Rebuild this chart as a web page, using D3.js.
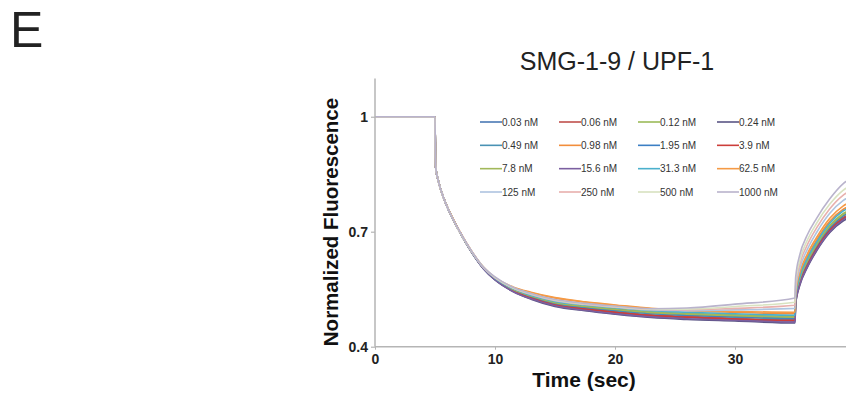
<!DOCTYPE html>
<html>
<head>
<meta charset="utf-8">
<script src="https://cdn.jsdelivr.net/npm/d3@7"></script>
<style>
  html, body { margin: 0; padding: 0; background: #fff; }
  svg { display: block; }
</style>
</head>
<body>
<svg id="chart" width="846" height="396"></svg>
<script>
// ---- data ----
const times = [0, 5, 5.05, 5.3, 5.7, 6.2, 7, 8, 9, 10, 11.5, 13, 15, 17.5, 20, 23, 26, 30, 35, 35.05, 35.4, 36, 36.8, 37.9, 39, 40];

const seriesNames = ["0.03 nM", "0.06 nM", "0.12 nM", "0.24 nM",
                     "0.49 nM", "0.98 nM", "1.95 nM", "3.9 nM",
                     "7.8 nM", "15.6 nM", "31.3 nM", "62.5 nM",
                     "125 nM", "250 nM", "500 nM", "1000 nM"];

const seriesColors = ["#4a78b5", "#c0504d", "#9bbb59", "#5b5585",
                      "#4a92b4", "#f28e3c", "#3c7fc4", "#cc3e3a",
                      "#a2b85a", "#7b5fa0", "#4bb0cc", "#f59a45",
                      "#aec4e0", "#e8b0ad", "#d8e2c0", "#b9b3cc"];

const s003  = [1, 1, 0.87, 0.83, 0.79, 0.752, 0.703, 0.650, 0.606, 0.575, 0.545, 0.527, 0.509, 0.497, 0.489, 0.480, 0.476, 0.471, 0.467, 0.515, 0.565, 0.610, 0.655, 0.703, 0.734, 0.748];
const s006  = [1, 1, 0.87, 0.83, 0.79, 0.752, 0.703, 0.650, 0.606, 0.576, 0.547, 0.528, 0.511, 0.500, 0.492, 0.483, 0.479, 0.474, 0.470, 0.518, 0.568, 0.613, 0.658, 0.706, 0.737, 0.751];
const s012  = [1, 1, 0.87, 0.83, 0.79, 0.752, 0.703, 0.650, 0.607, 0.578, 0.550, 0.533, 0.516, 0.506, 0.499, 0.491, 0.487, 0.483, 0.479, 0.527, 0.578, 0.623, 0.668, 0.716, 0.747, 0.761];
const s024  = [1, 1, 0.87, 0.83, 0.79, 0.752, 0.703, 0.649, 0.605, 0.574, 0.544, 0.524, 0.505, 0.494, 0.485, 0.476, 0.471, 0.467, 0.462, 0.510, 0.560, 0.605, 0.650, 0.698, 0.728, 0.742];
const s049  = [1, 1, 0.87, 0.83, 0.79, 0.752, 0.703, 0.650, 0.606, 0.577, 0.548, 0.530, 0.512, 0.502, 0.494, 0.486, 0.482, 0.477, 0.473, 0.521, 0.572, 0.617, 0.662, 0.710, 0.741, 0.755];
const s098  = [1, 1, 0.87, 0.83, 0.79, 0.753, 0.704, 0.651, 0.608, 0.579, 0.554, 0.541, 0.527, 0.516, 0.508, 0.499, 0.494, 0.490, 0.486, 0.534, 0.587, 0.633, 0.678, 0.727, 0.758, 0.772];
const s195  = [1, 1, 0.87, 0.83, 0.79, 0.752, 0.703, 0.650, 0.606, 0.577, 0.548, 0.531, 0.514, 0.503, 0.496, 0.488, 0.483, 0.479, 0.475, 0.523, 0.574, 0.619, 0.664, 0.712, 0.743, 0.757];
const s39   = [1, 1, 0.87, 0.83, 0.79, 0.752, 0.703, 0.650, 0.606, 0.576, 0.546, 0.527, 0.509, 0.498, 0.490, 0.481, 0.477, 0.472, 0.468, 0.516, 0.566, 0.611, 0.656, 0.704, 0.733, 0.747];
const s78   = [1, 1, 0.87, 0.83, 0.79, 0.752, 0.703, 0.650, 0.607, 0.577, 0.549, 0.532, 0.515, 0.505, 0.497, 0.489, 0.485, 0.481, 0.477, 0.525, 0.576, 0.621, 0.666, 0.714, 0.745, 0.759];
const s156  = [1, 1, 0.87, 0.83, 0.79, 0.752, 0.703, 0.649, 0.605, 0.575, 0.544, 0.525, 0.507, 0.495, 0.486, 0.478, 0.473, 0.469, 0.464, 0.512, 0.562, 0.607, 0.652, 0.700, 0.731, 0.745];
const s313  = [1, 1, 0.87, 0.83, 0.79, 0.752, 0.703, 0.650, 0.607, 0.578, 0.551, 0.534, 0.518, 0.509, 0.502, 0.494, 0.490, 0.486, 0.482, 0.530, 0.582, 0.628, 0.673, 0.722, 0.754, 0.768];
const s625  = [1, 1, 0.87, 0.83, 0.79, 0.753, 0.704, 0.652, 0.609, 0.580, 0.556, 0.542, 0.528, 0.517, 0.509, 0.500, 0.495, 0.492, 0.490, 0.538, 0.593, 0.640, 0.685, 0.735, 0.767, 0.782];
const s125  = [1, 1, 0.87, 0.83, 0.79, 0.752, 0.703, 0.651, 0.608, 0.580, 0.553, 0.536, 0.520, 0.510, 0.503, 0.496, 0.494, 0.496, 0.500, 0.548, 0.604, 0.652, 0.698, 0.748, 0.781, 0.797];
const s250  = [1, 1, 0.87, 0.83, 0.79, 0.752, 0.703, 0.651, 0.608, 0.580, 0.553, 0.537, 0.521, 0.511, 0.504, 0.497, 0.496, 0.500, 0.508, 0.557, 0.615, 0.664, 0.710, 0.760, 0.795, 0.812];
const s500  = [1, 1, 0.87, 0.83, 0.79, 0.752, 0.703, 0.651, 0.609, 0.581, 0.554, 0.538, 0.522, 0.512, 0.505, 0.498, 0.498, 0.505, 0.516, 0.566, 0.625, 0.676, 0.722, 0.772, 0.808, 0.826];
const s1000 = [1, 1, 0.87, 0.83, 0.79, 0.752, 0.704, 0.652, 0.609, 0.582, 0.555, 0.539, 0.523, 0.513, 0.506, 0.499, 0.501, 0.511, 0.527, 0.580, 0.640, 0.690, 0.735, 0.786, 0.825, 0.845];

const seriesValues = [s003, s006, s012, s024, s049, s098, s195, s39, s78, s156, s313, s625, s125, s250, s500, s1000];

const xTicks = [0, 10, 20, 30];
const yTicks = [0.4, 0.7, 1];

const titleText = "SMG-1-9 / UPF-1";
const panelLetter = "E";
const xLabel = "Time (sec)";
const yLabel = "Normalized Fluorescence";

// ---- drawing ----
const svg = d3.select("#chart");
const x = d3.scaleLinear().domain([0, 40]).range([375, 855]);
const y = d3.scaleLinear().domain([0.4, 1.1]).range([346.7, 78.4]);

const axisColor = "#b5b5b5";

// panel letter
svg.append("text").attr("x", 10).attr("y", 47)
  .attr("font-family", "Arial, 'Liberation Sans', sans-serif")
  .attr("font-size", 50).attr("fill", "#222").text(panelLetter);

// title
svg.append("text").attr("x", 617).attr("y", 70).attr("text-anchor", "middle")
  .attr("font-family", "Arial, 'Liberation Sans', sans-serif")
  .attr("font-size", 25).attr("fill", "#222").text(titleText);

// lines
const line = d3.line()
  .x((d, i) => x(times[i]))
  .y(d => y(d))
  .curve(d3.curveMonotoneX);

const gLines = svg.append("g");
seriesValues.forEach((vals, i) => {
  gLines.append("path")
    .attr("d", line(vals))
    .attr("fill", "none")
    .attr("stroke", seriesColors[i])
    .attr("stroke-width", 1.6)
    .attr("stroke-linejoin", "round");
});

// y axis
const yAxis = d3.axisLeft(y).tickValues(yTicks).tickSize(4).tickPadding(3)
  .tickFormat(d => d === 1 ? "1" : d3.format(".1f")(d));
const gy = svg.append("g").attr("transform", "translate(375,0)").call(yAxis);
gy.select(".domain").attr("stroke", axisColor).attr("stroke-width", 1.5)
  .attr("d", `M0,${y(1.1)}V${y(0.4)}`);
gy.selectAll(".tick line").attr("stroke", axisColor).attr("stroke-width", 1.2);
gy.selectAll(".tick text").attr("font-family", "Arial, 'Liberation Sans', sans-serif")
  .attr("font-size", 14).attr("font-weight", "bold").attr("fill", "#222");

// x axis
const xAxis = d3.axisBottom(x).tickValues(xTicks).tickSize(3).tickPadding(4)
  .tickFormat(d3.format("d"));
const gx = svg.append("g").attr("transform", `translate(0,${y(0.4)})`).call(xAxis);
gx.select(".domain").attr("stroke", axisColor).attr("stroke-width", 1.5)
  .attr("d", `M${x(0)},0H${x(40)}`);
gx.selectAll(".tick line").attr("stroke", axisColor).attr("stroke-width", 1);
gx.selectAll(".tick text").attr("font-family", "Arial, 'Liberation Sans', sans-serif")
  .attr("font-size", 14).attr("font-weight", "bold").attr("fill", "#222");

// axis labels
svg.append("text").attr("x", 584).attr("y", 387).attr("text-anchor", "middle")
  .attr("font-family", "Arial, 'Liberation Sans', sans-serif")
  .attr("font-size", 21).attr("font-weight", "bold").attr("fill", "#111").text(xLabel);

svg.append("text").attr("transform", "translate(338,222) rotate(-90)")
  .attr("text-anchor", "middle")
  .attr("font-family", "Arial, 'Liberation Sans', sans-serif")
  .attr("font-size", 20.5).attr("font-weight", "bold").attr("fill", "#111").text(yLabel);

// legend
const legCol = d3.scalePoint().domain([0, 1, 2, 3]).range([480, 717]);
const legRow = d3.scalePoint().domain([0, 1, 2, 3]).range([122, 192]);
const gLeg = svg.append("g");
seriesNames.forEach((name, i) => {
  const cx = legCol(i % 4), cy = legRow(Math.floor(i / 4));
  gLeg.append("line").attr("x1", cx).attr("x2", cx + 22).attr("y1", cy).attr("y2", cy)
    .attr("stroke", seriesColors[i]).attr("stroke-width", 1.6);
  gLeg.append("text").attr("x", cx + 22).attr("y", cy).attr("dy", "0.35em")
    .attr("font-family", "'Liberation Sans Narrow', Arial, sans-serif")
    .attr("font-size", 10).attr("fill", "#333").text(name);
});
</script>
</body>
</html>
